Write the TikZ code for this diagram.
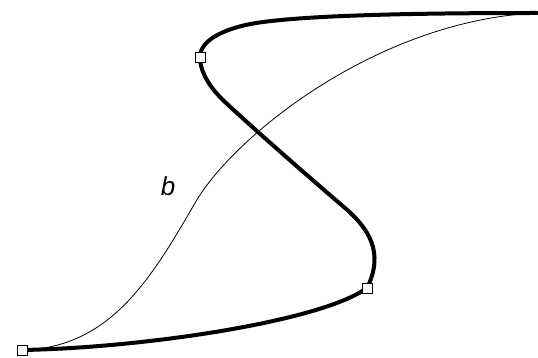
\documentclass[tikz,border=0pt]{standalone}
\usepackage{fontspec}
\setmainfont{Liberation Sans}
\begin{document}
\begin{tikzpicture}[x=1pt,y=-1pt,
  thickcurve/.style={line width=4pt,line cap=round,line join=round},
  thincurve/.style={line width=0.8pt},
  handle/.style={draw=black,fill=white,line width=0.9pt,minimum size=10pt,inner sep=0pt,rectangle},
  lbl/.style={font=\fontsize{26}{26}\selectfont\itshape}]
\useasboundingbox (0,0) rectangle (538,358);
\coordinate (A) at (22,350);
\coordinate (P1) at (367,288);
\coordinate (P2) at (200,57);
\coordinate (E) at (537,13);
\coordinate (M) at (195,203);
\coordinate (Q) at (345,208);
\coordinate (R) at (225,102);
\coordinate (S) at (263,22);
% thin curve b
\draw[thincurve] (A) .. controls (110,348) and (151,279) .. (M)
                     .. controls (235,134) and (380,20) .. (E);
% thick curve
\draw[thickcurve] (A) .. controls (140,348) and (320,322) .. (P1)
                      .. controls (385,252) and (368,228) .. (Q)
                      .. controls (310,178) and (255,130) .. (R)
                      .. controls (210,88) and (200,72) .. (P2)
                      .. controls (200,40) and (225,27) .. (S)
                      .. controls (323,14) and (450,13) .. (E);
\node[handle] (hA) at (A) {};
\node[handle] (hP1) at (P1) {};
\node[handle] (hP2) at (P2) {};
\node[lbl] (b) at (168,186) {b};
\end{tikzpicture}
\end{document}
